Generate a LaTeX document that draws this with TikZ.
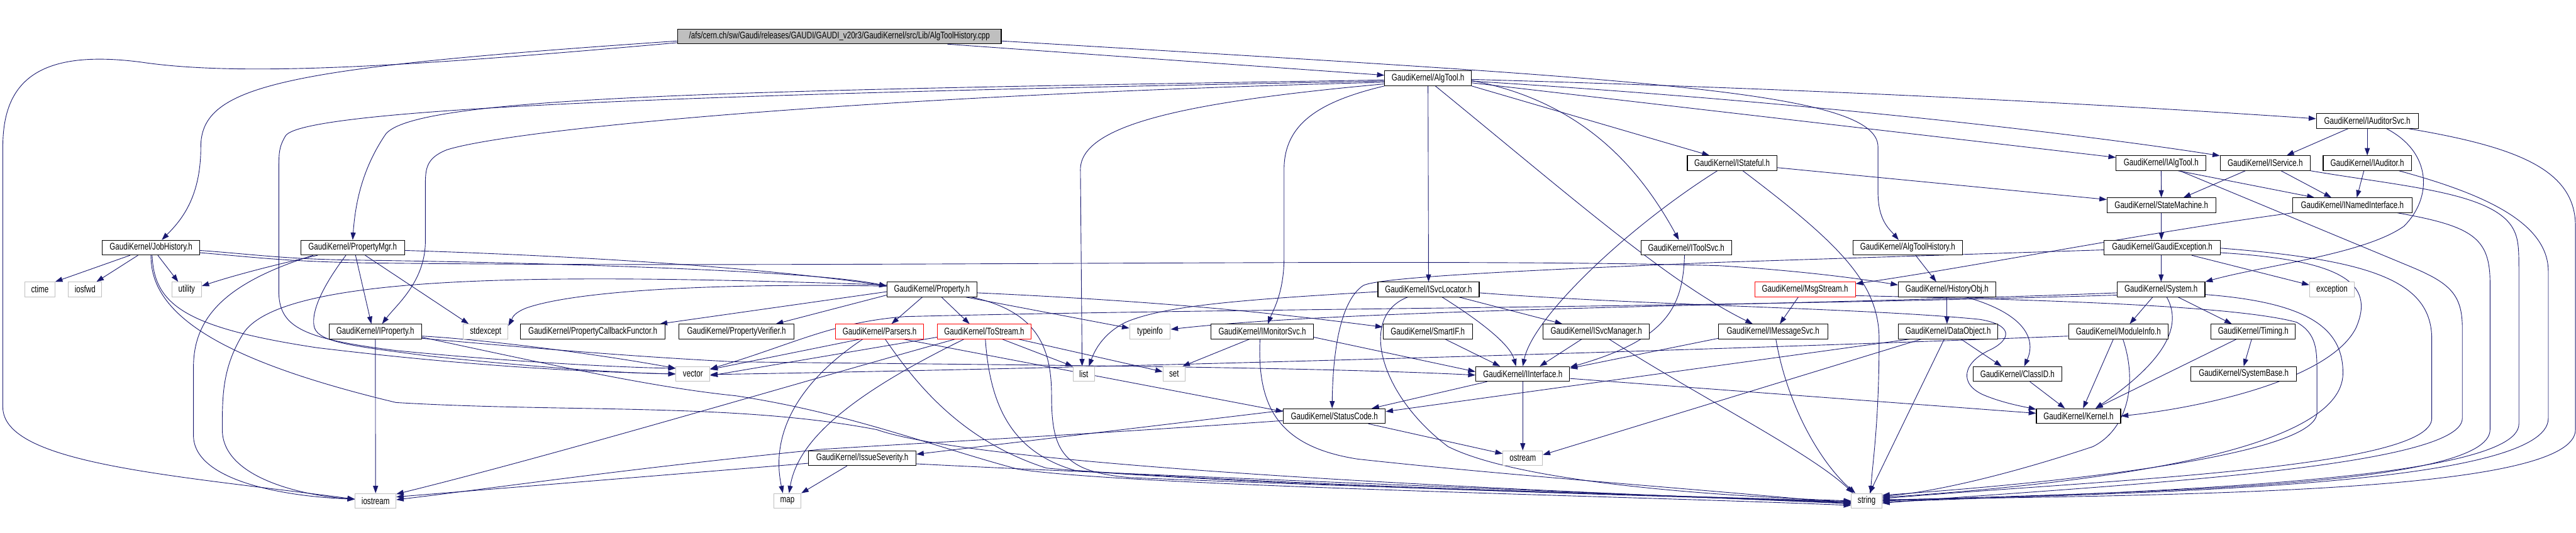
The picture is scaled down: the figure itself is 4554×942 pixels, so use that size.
\documentclass[tikz,border=0pt]{standalone}
\usepackage{fontspec}
\usepackage{xcolor}
\usepackage{tikz}
\usetikzlibrary{arrows.meta}
\newfontfamily\dotfont[FakeStretch=0.76]{Liberation Sans}
\definecolor{dotblue}{HTML}{191970}
\definecolor{sysgrey}{HTML}{BFBFBF}
\pgfdeclarelayer{bg}
\pgfsetlayers{bg,main}
\tikzset{
  hdr/.style={draw=black, fill=white, line width=1.2pt, minimum height=26pt,
              inner xsep=0pt, inner ysep=0pt, font=\dotfont\fontsize{17}{20}\selectfont},
  redhdr/.style={hdr, draw=red},
  syshdr/.style={hdr, draw=sysgrey},
  srcfile/.style={hdr, fill=sysgrey},
  dep/.style={draw=dotblue, line width=1pt, -{Triangle[length=13pt,width=9pt]}},
}

\begin{document}
\begin{tikzpicture}[x=1pt, y=-1pt]
  % rows of headers
  \node[srcfile, minimum width=572pt] (root) at (1484,64.5) {/afs/cern.ch/sw/Gaudi/releases/GAUDI/GAUDI\_v20r3/GaudiKernel/src/Lib/AlgToolHistory.cpp};
  \node[hdr, minimum width=153pt] (algtool) at (2524.5,138.5) {GaudiKernel/AlgTool.h};
  \node[hdr, minimum width=180pt] (iauditorsvc) at (4185,214) {GaudiKernel/IAuditorSvc.h};
  \node[hdr, minimum width=158pt] (istateful) at (3062,288.5) {GaudiKernel/IStateful.h};
  \node[hdr, minimum width=159pt] (ialgtool) at (3820.5,288.5) {GaudiKernel/IAlgTool.h};
  \node[hdr, minimum width=159pt] (iservice) at (4004.5,288.5) {GaudiKernel/IService.h};
  \node[hdr, minimum width=156pt] (iauditor) at (4185,288.5) {GaudiKernel/IAuditor.h};
  \node[hdr, minimum width=192pt] (statemachine) at (3821,363) {GaudiKernel/StateMachine.h};
  \node[hdr, minimum width=211pt] (inamed) at (4158.5,363) {GaudiKernel/INamedInterface.h};
  \node[hdr, minimum width=172pt] (jobhistory) at (267,438) {GaudiKernel/JobHistory.h};
  \node[hdr, minimum width=183pt] (propertymgr) at (623.5,438) {GaudiKernel/PropertyMgr.h};
  \node[hdr, minimum width=160pt] (itoolsvc) at (2981,438) {GaudiKernel/IToolSvc.h};
  \node[hdr, minimum width=193pt] (algtoolhistory) at (3372.5,438) {GaudiKernel/AlgToolHistory.h};
  \node[hdr, minimum width=205pt] (gaudiexception) at (3822.5,438) {GaudiKernel/GaudiException.h};
  \node[syshdr, minimum width=53pt] (ctime) at (70.5,512) {ctime};
  \node[syshdr, minimum width=59pt] (iosfwd) at (150.5,512) {iosfwd};
  \node[syshdr, minimum width=52pt] (utility) at (330,512) {utility};
  \node[hdr, minimum width=159pt] (property) at (1647.5,512) {GaudiKernel/Property.h};
  \node[hdr, minimum width=179pt] (isvclocator) at (2525.5,512) {GaudiKernel/ISvcLocator.h};
  \node[redhdr, minimum width=178pt] (msgstream) at (3191,512) {GaudiKernel/MsgStream.h};
  \node[hdr, minimum width=172pt] (historyobj) at (3442,512) {GaudiKernel/HistoryObj.h};
  \node[hdr, minimum width=155pt] (system) at (3820.5,512) {GaudiKernel/System.h};
  \node[syshdr, minimum width=79pt] (exception) at (4122.5,512) {exception};
  \node[hdr, minimum width=163pt] (iproperty) at (663.5,586.5) {GaudiKernel/IProperty.h};
  \node[syshdr, minimum width=79pt] (stdexcept) at (858.5,586.5) {stdexcept};
  \node[hdr, minimum width=256pt] (propcallback) at (1048,586.5) {GaudiKernel/PropertyCallbackFunctor.h};
  \node[hdr, minimum width=204pt] (propverifier) at (1302,586.5) {GaudiKernel/PropertyVerifier.h};
  \node[redhdr, minimum width=156pt] (parsers) at (1555,586.5) {GaudiKernel/Parsers.h};
  \node[redhdr, minimum width=166pt] (tostream) at (1740,586.5) {GaudiKernel/ToStream.h};
  \node[syshdr, minimum width=72pt] (typeinfo) at (2033,586.5) {typeinfo};
  \node[hdr, minimum width=181pt] (imonitorsvc) at (2231.5,586.5) {GaudiKernel/IMonitorSvc.h};
  \node[hdr, minimum width=158pt] (smartif) at (2524,586.5) {GaudiKernel/SmartIF.h};
  \node[hdr, minimum width=188pt] (isvcmanager) at (2822,586.5) {GaudiKernel/ISvcManager.h};
  \node[hdr, minimum width=193pt] (imessagesvc) at (3134.5,586.5) {GaudiKernel/IMessageSvc.h};
  \node[hdr, minimum width=176pt] (dataobject) at (3444,586.5) {GaudiKernel/DataObject.h};
  \node[hdr, minimum width=176pt] (moduleinfo) at (3745,586.5) {GaudiKernel/ModuleInfo.h};
  \node[hdr, minimum width=149pt] (timing) at (3983.5,586.5) {GaudiKernel/Timing.h};
  \node[syshdr, minimum width=60pt] (vector) at (1225,661.5) {vector};
  \node[syshdr, minimum width=38pt] (list) at (1916,661.5) {list};
  \node[syshdr, minimum width=39pt] (set) at (2075.5,661.5) {set};
  \node[hdr, minimum width=166pt] (iinterface) at (2692,661.5) {GaudiKernel/IInterface.h};
  \node[hdr, minimum width=157pt] (classid) at (3566.5,661.5) {GaudiKernel/ClassID.h};
  \node[hdr, minimum width=187pt] (systembase) at (3966.5,661.5) {GaudiKernel/SystemBase.h};
  \node[hdr, minimum width=180pt] (statuscode) at (2359,736) {GaudiKernel/StatusCode.h};
  \node[hdr, minimum width=149pt] (kernel) at (3674.5,736) {GaudiKernel/Kernel.h};
  \node[hdr, minimum width=190pt] (issueseverity) at (1524.5,810.5) {GaudiKernel/IssueSeverity.h};
  \node[syshdr, minimum width=70pt] (ostream) at (2692,810.5) {ostream};
  \node[syshdr, minimum width=72pt] (iostream) at (664,886) {iostream};
  \node[syshdr, minimum width=48pt] (map) at (1392,886) {map};
  \node[syshdr, minimum width=54pt] (string) at (3300,886) {string};

  \begin{pgfonlayer}{bg}
  \fill[white] (0,0) rectangle (4554,942);
  \useasboundingbox (0,0) rectangle (4554,942);

  % the source file
  \draw[dep] (root) -- (algtool);
  \draw[dep] ([yshift=-8pt]root.east) .. controls (2900,140) and (3320,160) .. (3320,260) -- (3320,340) .. controls (3320,390) and (3340,405) .. ([xshift=-16pt]algtoolhistory.north);
  \draw[dep] ([yshift=-8pt]root.west) .. controls (500,120) and (355,150) .. (355,260) .. controls (355,350) and (320,390) .. ([xshift=19pt]jobhistory.north);
  \draw[dep] ([yshift=-11pt]root.west) .. controls (700,120) and (420,135) .. (250,110) .. controls (60,85) and (5,150) .. (5,260) -- (5,720) .. controls (5,820) and (300,840) .. ([yshift=3pt]iostream.west);

  % AlgTool.h
  \draw[dep] ([yshift=-3pt]algtool.west) .. controls (1300,160) and (720,170) .. (680,240) .. controls (640,300) and (628,360) .. (propertymgr.north);
  \draw[dep] ([yshift=-5pt]algtool.west) .. controls (1300,165) and (540,190) .. (505,240) .. controls (493,260) and (493,270) .. (493,300) -- (493,520) .. controls (495,580) and (540,600) .. (700,620) .. controls (900,640) and (1100,650) .. ([yshift=10pt]vector.west);
  \draw[dep] ([yshift=-7pt]algtool.west) .. controls (1500,170) and (900,230) .. (790,265) .. controls (752,280) and (752,300) .. (752,330) -- (752,430) .. controls (750,500) and (700,540) .. ([xshift=12pt]iproperty.north);
  \draw[dep] ([yshift=-10pt]algtool.west) .. controls (2100,180) and (1910,220) .. (1910,300) -- ([xshift=-3pt]list.north);
  \draw[dep] (algtool.south west) .. controls (2330,180) and (2270,220) .. (2270,300) -- (2270,460) .. controls (2269,520) and (2250,550) .. ([xshift=10pt]imonitorsvc.north);
  \draw[dep] (algtool) -- (isvclocator);
  \draw[dep] ([xshift=13pt]algtool.south) .. controls (2780,350) and (2950,500) .. ([xshift=-36pt]imessagesvc.north);
  \draw[dep] ([yshift=-4pt]algtool.east) .. controls (2800,180) and (2900,300) .. ([xshift=-13pt]itoolsvc.north);
  \draw[dep] (algtool.south east) -- ([xshift=-40pt]istateful.north);
  \draw[dep] ([yshift=-8pt]algtool.east) -- ([yshift=10pt]ialgtool.west);
  \draw[dep] ([yshift=-5pt]algtool.east) .. controls (3200,180) and (3700,240) .. ([yshift=13pt]iservice.west);
  \draw[dep] ([yshift=-2pt]algtool.east) .. controls (3300,160) and (3800,190) .. ([yshift=4pt]iauditorsvc.west);

  % interfaces on the right
  \draw[dep] ([yshift=-8pt]istateful.east) -- ([yshift=10pt]statemachine.west);
  \draw[dep] ([xshift=-26pt]istateful.south) .. controls (2880,400) and (2710,560) .. (iinterface.north);
  \draw[dep] ([xshift=19pt]istateful.south) .. controls (3250,430) and (3322,500) .. (3322,600) .. controls (3322,750) and (3310,820) .. ([xshift=7pt]string.north);
  \draw[dep] (ialgtool) -- (statemachine);
  \draw[dep] ([xshift=30pt]ialgtool.south) -- ([xshift=-67pt]inamed.north);
  \draw[dep] ([xshift=33pt]ialgtool.south) -- (4260,471) .. controls (4330,500) and (4353,520) .. (4353,580) -- (4353,740) .. controls (4353,830) and (3700,860) .. ([yshift=-4pt]string.east);
  \draw[dep] ([xshift=-35pt]iservice.south) -- ([xshift=39pt]statemachine.north);
  \draw[dep] ([xshift=28pt]iservice.south) -- ([xshift=-37pt]inamed.north);
  \draw[dep] (iservice.south east) .. controls (4250,330) and (4400,340) .. (4440,400) .. controls (4453,420) and (4453,440) .. (4453,480) -- (4453,750) .. controls (4453,850) and (3800,870) .. ([yshift=-2pt]string.east);
  \draw[dep] ([xshift=-6pt]iauditor.south) -- ([xshift=8pt]inamed.north);
  \draw[dep] ([xshift=56pt]iauditor.south) .. controls (4380,340) and (4505,390) .. (4505,480) -- (4505,740) .. controls (4505,860) and (3800,872) .. (string.east);
  \draw[dep] ([xshift=-34pt]iauditorsvc.south) -- ([xshift=38pt]iservice.north);
  \draw[dep] (iauditorsvc) -- (iauditor);
  \draw[dep] ([xshift=34pt]iauditorsvc.south) .. controls (4300,270) and (4300,350) .. (4250,400) .. controls (4180,450) and (4000,470) .. (system.north east);
  \draw[dep] ([xshift=73pt]iauditorsvc.south) .. controls (4450,260) and (4553,300) .. (4553,400) -- (4553,760) .. controls (4553,870) and (3900,875) .. ([yshift=2pt]string.east);
  \draw[dep] (statemachine) -- (statemachine |- gaudiexception.north);
  \draw[dep] (inamed.south west) .. controls (3800,410) and (3500,470) .. ([yshift=10pt]msgstream.east);
  \draw[dep] ([xshift=80pt]inamed.south) .. controls (4370,400) and (4402,420) .. (4402,500) -- (4402,760) .. controls (4402,860) and (3800,870) .. ([yshift=1pt]string.east);

  % GaudiException.h and System.h
  \draw[dep] ([xshift=-2pt]gaudiexception.south) -- (system.north);
  \draw[dep] ([xshift=52pt]gaudiexception.south) -- ([yshift=8pt]exception.west);
  \draw[dep] ([yshift=-9pt]gaudiexception.east) .. controls (4140,460) and (4200,500) .. (4165,580) .. controls (4120,670) and (3900,720) .. (kernel.east);
  \draw[dep] ([yshift=-1pt]gaudiexception.east) .. controls (4200,460) and (4299,500) .. (4299,600) -- (4299,740) .. controls (4299,830) and (3700,850) .. ([yshift=4pt]string.east);
  \draw[dep] ([yshift=-4pt]gaudiexception.west) -- (3040,464) .. controls (2700,478) and (2440,490) .. (2410,505) .. controls (2365,535) and (2356,640) .. ([xshift=-4pt]statuscode.north);
  \draw[dep] ([xshift=10pt]system.south) .. controls (3855,570) and (3840,630) .. ([xshift=30pt]kernel.north);
  \draw[dep] ([xshift=-15pt]system.south) -- ([xshift=20pt]moduleinfo.north);
  \draw[dep] ([xshift=30pt]system.south) -- ([xshift=-38pt]timing.north);
  \draw[dep] ([yshift=-9pt]system.east) .. controls (4080,535) and (4142,580) .. (4142,660) .. controls (4142,800) and (3700,855) .. ([yshift=6pt]string.east);
  \draw[dep] ([yshift=-6pt]system.west) .. controls (3200,540) and (2400,545) .. ([yshift=4pt]typeinfo.east);
  \draw[dep] ([yshift=-10pt]system.west) .. controls (3000,545) and (2200,545) .. (1600,560) .. controls (1470,570) and (1400,610) .. ([yshift=9pt]vector.east);
  \draw[dep] ([xshift=-9pt]moduleinfo.south) -- ([xshift=8pt]kernel.north);
  \draw[dep] ([xshift=8pt]moduleinfo.south) .. controls (3780,680) and (3760,760) .. (3700,790) .. controls (3550,840) and (3420,870) .. ([yshift=8pt]string.east);
  \draw[dep] ([yshift=-8pt]moduleinfo.west) .. controls (3000,620) and (2000,650) .. ([yshift=-1pt]vector.east);
  \draw[dep] ([xshift=-3pt]timing.south) -- (systembase.north);
  \draw[dep] ([xshift=-30pt]timing.south) -- ([xshift=30pt]kernel.north);
  \draw[dep] ([xshift=22pt]classid.south) -- ([xshift=-24pt]kernel.north);

  % history objects
  \draw[dep] ([xshift=14pt]algtoolhistory.south) -- ([xshift=-19pt]historyobj.north);
  \draw[dep] (historyobj.south) -- (historyobj.south |- dataobject.north);
  \draw[dep] ([xshift=34pt]historyobj.south) .. controls (3580,555) and (3600,600) .. ([xshift=12pt]classid.north);
  \draw[dep] ([xshift=23pt]dataobject.south) -- ([xshift=-28pt]classid.north);
  \draw[dep] ([xshift=-7pt]dataobject.south) -- ([xshift=5pt]string.north);
  \draw[dep] ([xshift=-69pt]dataobject.south) -- ([yshift=8pt]statuscode.east);
  \draw[dep] ([xshift=-48pt]dataobject.south) -- ([yshift=6pt]ostream.east);

  % services
  \draw[dep] ([xshift=-12pt]msgstream.south) -- ([xshift=12pt]imessagesvc.north);
  \draw[dep] ([yshift=-11pt]msgstream.east) .. controls (3600,530) and (3950,540) .. (4060,570) .. controls (4096,590) and (4096,620) .. (4096,660) -- (4096,730) .. controls (4096,800) and (3700,850) .. ([yshift=10pt]string.east);
  \draw[dep] ([yshift=-12pt]imessagesvc.west) -- ([yshift=10pt]iinterface.east);
  \draw[dep] ([xshift=5pt]imessagesvc.south) .. controls (3160,720) and (3220,820) .. ([xshift=-20pt]string.north);
  \draw[dep] ([xshift=-26pt]isvcmanager.south) -- ([xshift=30pt]iinterface.north);
  \draw[dep] ([xshift=23pt]isvcmanager.south) .. controls (3000,700) and (3200,800) .. ([xshift=-24pt]string.north);
  \draw[dep] ([xshift=31pt]smartif.south) -- ([xshift=-40pt]iinterface.north);
  \draw[dep] ([xshift=-3pt]itoolsvc.south) .. controls (2975,540) and (2950,600) .. ([yshift=12pt]iinterface.east);
  \draw[dep] ([xshift=24pt]isvclocator.south) .. controls (2620,570) and (2670,610) .. ([xshift=-12pt]iinterface.north);
  \draw[dep] ([xshift=54pt]isvclocator.south) -- ([xshift=-60pt]isvcmanager.north);
  \draw[dep] ([xshift=-37pt]isvclocator.south) .. controls (2400,560) and (2440,700) .. (2560,790) .. controls (2700,860) and (3100,880) .. (string.west);
  \draw[dep] ([yshift=-4pt]isvclocator.west) .. controls (2200,530) and (2060,540) .. (1990,570) .. controls (1950,590) and (1935,620) .. ([xshift=9pt]list.north);
  \draw[dep] ([yshift=-6pt]isvclocator.east) .. controls (2900,540) and (3300,545) .. (3500,565) .. controls (3560,575) and (3555,600) .. (3520,618) .. controls (3470,640) and (3460,680) .. (3510,700) .. controls (3540,712) and (3570,718) .. ([yshift=12pt]kernel.west);
  \draw[dep] ([yshift=-10pt]imonitorsvc.east) -- ([yshift=4pt]iinterface.west);
  \draw[dep] ([xshift=-23pt]imonitorsvc.south) -- ([xshift=15pt]set.north);
  \draw[dep] ([xshift=-4pt]imonitorsvc.south) .. controls (2222,720) and (2260,790) .. (2400,812) .. controls (2700,845) and (3100,872) .. ([yshift=-6pt]string.west);

  % properties
  \draw[dep] ([xshift=-17pt]property.south) -- ([xshift=21pt]parsers.north);
  \draw[dep] ([xshift=17pt]property.south) -- ([xshift=-26pt]tostream.north);
  \draw[dep] ([xshift=60pt]property.south) -- ([yshift=6pt]typeinfo.west);
  \draw[dep] ([xshift=70pt]property.south) .. controls (1830,550) and (1859,610) .. (1859,700) .. controls (1859,800) and (1880,835) .. (2000,845) .. controls (2500,865) and (3000,878) .. ([yshift=-2pt]string.west);
  \draw[dep] ([yshift=-6pt]property.east) .. controls (2100,535) and (2300,560) .. ([yshift=8pt]smartif.west);
  \draw[dep] ([yshift=6pt]property.west) .. controls (1200,500) and (1000,520) .. (930,545) .. controls (905,555) and (905,565) .. ([yshift=10pt]stdexcept.east);
  \draw[dep] ([yshift=-4pt]property.west) -- ([xshift=-10pt]propcallback.north east);
  \draw[dep] ([yshift=-10pt]property.west) -- ([xshift=-33pt]propverifier.north east);
  \draw[dep] ([yshift=8pt]property.west) .. controls (1000,485) and (500,480) .. (430,590) .. controls (393,650) and (393,700) .. (393,760) .. controls (393,850) and (550,878) .. ([yshift=3pt]iostream.west);
  \draw[dep] ([yshift=-5pt]propertymgr.east) .. controls (1100,455) and (1400,480) .. ([yshift=6pt]property.west);
  \draw[dep] ([xshift=5pt]propertymgr.south) -- ([xshift=-7pt]iproperty.north);
  \draw[dep] ([xshift=22pt]propertymgr.south) -- ([xshift=-30pt]stdexcept.north);
  \draw[dep] ([xshift=-62pt]propertymgr.south) .. controls (500,465) and (420,485) .. ([yshift=6pt]utility.east);
  \draw[dep] ([xshift=-70pt]propertymgr.south) .. controls (400,500) and (342,560) .. (342,650) -- (342,770) .. controls (342,850) and (500,878) .. ([yshift=3pt]iostream.west);
  \draw[dep] ([xshift=-12pt]propertymgr.south) .. controls (560,520) and (550,560) .. (556,580) .. controls (565,605) and (620,612) .. (760,630) .. controls (950,650) and (1100,660) .. (vector.west);
  \draw[dep] ([xshift=-37pt]jobhistory.south) -- (ctime.north east);
  \draw[dep] ([xshift=-23pt]jobhistory.south) -- ([xshift=20pt]iosfwd.north);
  \draw[dep] ([xshift=12pt]jobhistory.south) -- ([xshift=-15pt]utility.north);
  \draw[dep] ([xshift=2pt]jobhistory.south) .. controls (272,540) and (330,580) .. (560,615) .. controls (850,650) and (1050,658) .. (vector.west);
  \draw[dep] (jobhistory.south) .. controls (265,560) and (400,640) .. (700,712) .. controls (1000,730) and (1300,712) .. (1550,760) .. controls (1750,830) and (2800,872) .. ([yshift=-4pt]string.west);
  \draw[dep] ([yshift=-5pt]jobhistory.east) .. controls (450,450) and (500,458) .. (620,460) .. controls (1000,465) and (1450,480) .. ([yshift=6pt]property.west);
  \draw[dep] ([yshift=-9pt]jobhistory.east) .. controls (450,455) and (500,462) .. (640,465) .. controls (1500,475) and (2500,455) .. (3040,470) .. controls (3200,480) and (3300,495) .. ([yshift=8pt]historyobj.west);
  \draw[dep] (iproperty) -- (iostream);
  \draw[dep] ([yshift=-8pt]iproperty.east) .. controls (850,600) and (1050,625) .. ([yshift=10pt]vector.west);
  \draw[dep] ([yshift=-10pt]iproperty.east) .. controls (950,640) and (1150,685) .. (1300,700) .. controls (1500,730) and (1650,790) .. (1800,830) .. controls (2000,860) and (2900,878) .. ([yshift=-8pt]string.west);
  \draw[dep] ([yshift=-12pt]iproperty.east) .. controls (900,612) and (1100,630) .. (1300,640) .. controls (1700,645) and (2300,648) .. ([yshift=-2pt]iinterface.west);

  % parsers and streams
  \draw[dep] ([xshift=-35pt]parsers.south) -- ([yshift=8pt]vector.east);
  \draw[dep] ([xshift=-30pt]parsers.south) .. controls (1420,670) and (1360,760) .. ([xshift=-8pt]map.north);
  \draw[dep] ([xshift=10pt]parsers.south) .. controls (1620,680) and (1700,780) .. (1850,828) .. controls (2200,860) and (3000,878) .. ([yshift=-3pt]string.west);
  \draw[dep] ([xshift=43pt]parsers.south) -- ([yshift=8pt]statuscode.west);
  \draw[dep] ([yshift=-10pt]tostream.west) -- ([yshift=-3pt]vector.east);
  \draw[dep] ([xshift=-36pt]tostream.south) .. controls (1500,700) and (1410,780) .. ([xshift=3pt]map.north);
  \draw[dep] ([xshift=-52pt]tostream.south) .. controls (1400,680) and (1000,800) .. ([yshift=12pt]iostream.east);
  \draw[dep] ([xshift=32pt]tostream.south) -- (list.north west);
  \draw[dep] ([xshift=61pt]tostream.south) -- ([yshift=4pt]set.west);
  \draw[dep] ([xshift=2pt]tostream.south) .. controls (1750,720) and (1790,800) .. (1900,832) .. controls (2300,860) and (3000,878) .. ([yshift=-1pt]string.west);
  \draw[dep] ([xshift=-27pt]issueseverity.south) -- (map.north east);
  \draw[dep] ([yshift=-9pt]issueseverity.west) -- ([yshift=7pt]iostream.east);
  \draw[dep] ([yshift=-10pt]issueseverity.east) .. controls (2000,840) and (2800,870) .. ([yshift=-5pt]string.west);

  % status codes and interfaces
  \draw[dep] ([xshift=60pt]statuscode.south) -- ([yshift=8pt]ostream.west);
  \draw[dep] ([yshift=10pt]statuscode.west) -- ([yshift=7pt]issueseverity.east);
  \draw[dep] ([yshift=-8pt]statuscode.west) .. controls (1900,770) and (1600,785) .. (1450,795) .. controls (1100,830) and (900,860) .. ([yshift=2pt]iostream.east);
  \draw[dep] (iinterface) -- (ostream);
  \draw[dep] ([xshift=-63pt]iinterface.south) -- ([xshift=66pt]statuscode.north);
  \draw[dep] ([yshift=-8pt]iinterface.east) -- ([yshift=5pt]kernel.west);
  \end{pgfonlayer}
\end{tikzpicture}
\end{document}
